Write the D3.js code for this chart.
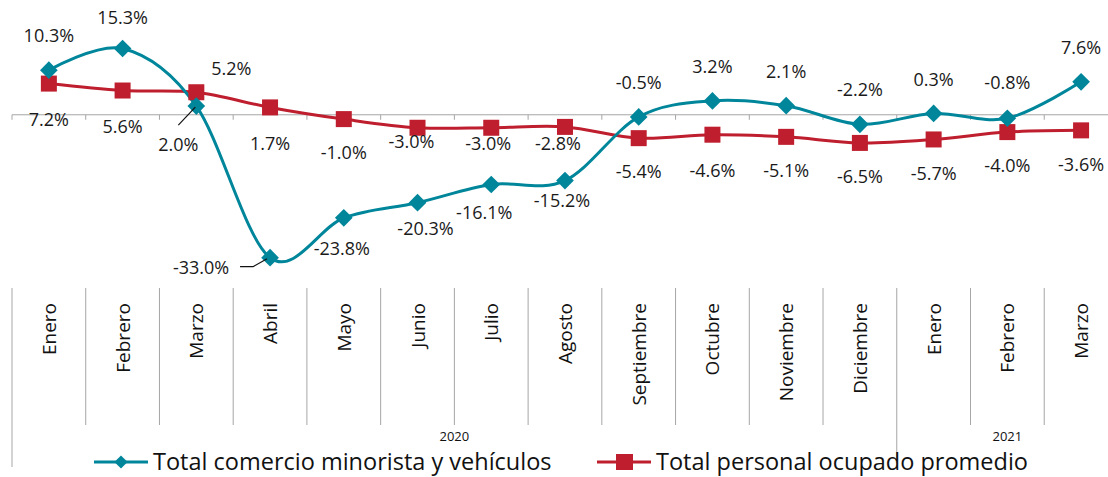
<!doctype html>
<html>
  <head>
    <script src="https://cdn.jsdelivr.net/npm/d3@7/dist/d3.min.js"></script>
    <style>
      body, html {
        margin: 0;
        background: #fff;
      }
      svg {
        display: block;
        font-family: "Open Sans", "Noto Sans", sans-serif;
      }
      .axis-line {
        stroke: #a6a6a6;
        stroke-width: 1px;
        fill: none;
      }
      .lbl {
        font-size: 18px;
        fill: #1a1a1a;
      }
      .month {
        font-size: 19px;
        fill: #111;
      }
      .year {
        font-size: 13px;
        fill: #111;
      }
      .legend-text {
        font-size: 23.5px;
        fill: #111;
      }
    </style>
  </head>
  <body>
    <svg width="1108" height="477"></svg>
    <script>

      // meses (2020: Enero..Diciembre, 2021: Enero..Marzo)
      var months = ["Enero", "Febrero", "Marzo", "Abril", "Mayo", "Junio", "Julio", "Agosto",
                    "Septiembre", "Octubre", "Noviembre", "Diciembre", "Enero", "Febrero", "Marzo"];
      var years = [{ label: "2020", from: 0, to: 12 }, { label: "2021", from: 12, to: 15 }];

      var comercio = [10.3, 15.3, 2.0, -33.0, -23.8, -20.3, -16.1, -15.2, -0.5, 3.2, 2.1, -2.2, 0.3, -0.8, 7.6];
      var personal = [7.2, 5.6, 5.2, 1.7, -1.0, -3.0, -3.0, -2.8, -5.4, -4.6, -5.1, -6.5, -5.7, -4.0, -3.6];

      var seriesNames = ["Total comercio minorista y vehículos", "Total personal ocupado promedio"];

      // label placement (offset from the point)
      var comercioLabelPos = [[0,-34],[0,-31],[-18,39],[-69,10],[-2,31],[8,26],[-7,28],[-3,20],
                              [0,-34],[0,-34],[0,-34],[0,-35],[0,-34],[0,-36],[0,-34]];
      var personalLabelPos = [[0,36],[0,36],[35,-24],[0,36],[0,34],[-6,14],[-3,16],[-7,17],
                              [0,34],[0,36],[0,34],[0,34],[0,34],[0,34],[0,34]];

      var teal = "#00869B", red = "#BE1E2D";

      var svg = d3.select("svg");
      var step = 73.73, left = 12;

      var x = d3.scaleBand()
        .domain(d3.range(months.length))
        .range([left, left + step * months.length])
        .padding(0);

      var y = d3.scaleLinear()
        .domain([-40, 25])
        .range([288, 6.5]);

      var cx = i => x(i) + x.bandwidth() / 2;

      // zero axis with ticks
      svg.append("line").attr("class", "axis-line")
        .attr("x1", left).attr("x2", 1108)
        .attr("y1", y(0)).attr("y2", y(0));
      svg.selectAll("line.tick")
        .data(d3.range(months.length + 1))
        .join("line").attr("class", "axis-line")
        .attr("x1", i => left + i * step).attr("x2", i => left + i * step)
        .attr("y1", y(0)).attr("y2", y(0) + 5);

      // category panel
      var yearEdges = [0, 12, 15];
      svg.selectAll("line.div")
        .data(d3.range(months.length + 1))
        .join("line").attr("class", "axis-line")
        .attr("x1", i => left + i * step).attr("x2", i => left + i * step)
        .attr("y1", 288)
        .attr("y2", i => yearEdges.includes(i) ? 467 : 425);

      svg.selectAll("text.month")
        .data(months)
        .join("text").attr("class", "month")
        .attr("transform", (d, i) => "translate(" + (cx(i) + 7) + ",303) rotate(-90)")
        .attr("text-anchor", "end")
        .text(d => d);

      svg.selectAll("text.year")
        .data(years)
        .join("text").attr("class", "year")
        .attr("x", d => left + (d.from + d.to) / 2 * step)
        .attr("y", 441)
        .attr("text-anchor", "middle")
        .text(d => d.label);

      // lines
      var line = d3.line()
        .x((d, i) => cx(i))
        .y(d => y(d))
        .curve(d3.curveCatmullRom.alpha(0));

      svg.append("path").datum(personal)
        .attr("d", line).attr("fill", "none")
        .attr("stroke", red).attr("stroke-width", 3);

      svg.append("path").datum(comercio)
        .attr("d", line).attr("fill", "none")
        .attr("stroke", teal).attr("stroke-width", 3);

      svg.selectAll("rect.pt")
        .data(personal)
        .join("rect")
        .attr("x", (d, i) => cx(i) - 8).attr("y", d => y(d) - 8)
        .attr("width", 16).attr("height", 16)
        .attr("fill", red);

      var diamond = d3.symbol().type(d3.symbolDiamond2).size(200);
      svg.selectAll("path.pt")
        .data(comercio)
        .join("path")
        .attr("transform", (d, i) => "translate(" + cx(i) + "," + y(d) + ")")
        .attr("d", diamond)
        .attr("fill", teal);

      // leader lines for Marzo / Abril labels
      var leader = d3.line();
      svg.append("path")
        .attr("d", leader([[cx(2) - 18, y(comercio[2]) + 19], [cx(2) - 1, y(comercio[2]) + 1]]))
        .attr("stroke", "#111").attr("stroke-width", 1.2).attr("fill", "none");
      svg.append("path")
        .attr("d", leader([[cx(3) - 30, y(comercio[3]) + 9], [cx(3) - 17, y(comercio[3]) + 9], [cx(3) - 3, y(comercio[3]) + 1]]))
        .attr("stroke", "#111").attr("stroke-width", 1.2).attr("fill", "none");

      var fmt = v => v.toFixed(1) + "%";

      svg.selectAll("text.lc")
        .data(comercio)
        .join("text").attr("class", "lbl")
        .attr("x", (d, i) => cx(i) + comercioLabelPos[i][0])
        .attr("y", (d, i) => y(d) + comercioLabelPos[i][1])
        .attr("dy", "0.35em")
        .attr("text-anchor", "middle")
        .text(fmt);

      svg.selectAll("text.lp")
        .data(personal)
        .join("text").attr("class", "lbl")
        .attr("x", (d, i) => cx(i) + personalLabelPos[i][0])
        .attr("y", (d, i) => y(d) + personalLabelPos[i][1])
        .attr("dy", "0.35em")
        .attr("text-anchor", "middle")
        .text(fmt);

      // legend
      var legend = svg.append("g").attr("transform", "translate(0,462)");
      var legendItems = [
        { name: seriesNames[0], color: teal, x: 94, shape: "diamond" },
        { name: seriesNames[1], color: red, x: 597, shape: "square" }
      ];
      legendItems.forEach(it => {
        var g = legend.append("g").attr("transform", "translate(" + it.x + ",0)");
        g.append("line").attr("x1", 0).attr("x2", 54).attr("y1", 0).attr("y2", 0)
          .attr("stroke", it.color).attr("stroke-width", 3);
        if (it.shape == "diamond") {
          g.append("path").attr("transform", "translate(27,0)")
            .attr("d", d3.symbol().type(d3.symbolDiamond2).size(110)).attr("fill", it.color);
        } else {
          g.append("rect").attr("x", 19).attr("y", -8).attr("width", 17).attr("height", 16)
            .attr("fill", it.color);
        }
        g.append("text").attr("class", "legend-text")
          .attr("x", 59).attr("dy", "0.35em")
          .text(it.name);
      });
    </script>
  </body>
</html>
